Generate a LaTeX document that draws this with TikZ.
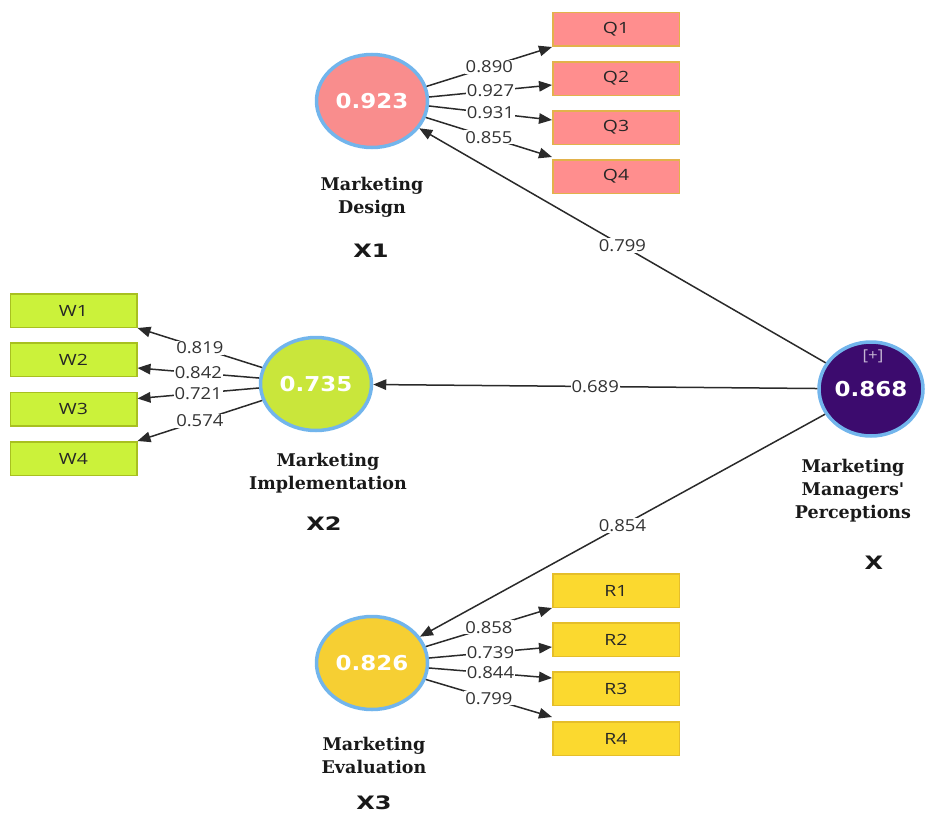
\documentclass[tikz,border=0pt]{standalone}
\usepackage{fontspec}
\usetikzlibrary{shapes.geometric,arrows.meta}
\newfontfamily\numfont{Open Sans}[FakeStretch=1.12]
\newfontfamily\boxfont{Open Sans}[FakeStretch=1.25]
\newfontfamily\valfont{DejaVu Sans}[FakeStretch=1.12]
\newfontfamily\xfont{DejaVu Sans}[FakeStretch=1.3]
\newfontfamily\lblfont{DejaVu Serif}
\definecolor{cborder}{HTML}{72B5EC}
\definecolor{cX}{HTML}{3C0B6E}
\definecolor{cXone}{HTML}{F98D8D}
\definecolor{cQ}{HTML}{FF8E8E}
\definecolor{cQb}{HTML}{E2B24B}
\definecolor{cXtwo}{HTML}{C9E63B}
\definecolor{cW}{HTML}{CBF23A}
\definecolor{cWb}{HTML}{A8C020}
\definecolor{cXthree}{HTML}{F6CF33}
\definecolor{cR}{HTML}{FBD92F}
\definecolor{cRb}{HTML}{E5BE2A}
\definecolor{cline}{HTML}{2A2A2A}
\begin{document}
\begin{tikzpicture}[x=1pt,y=-1pt,
  lv/.style={ellipse, draw=cborder, line width=3.5pt, minimum width=111pt, minimum height=93pt, inner sep=0pt, text=white, font=\valfont\bfseries\fontsize{20.5}{24}\selectfont},
  ind/.style={rectangle, line width=1.5pt, minimum width=126.5pt, minimum height=33.5pt, inner sep=0pt, font=\boxfont\fontsize{15.5}{18}\selectfont, text=black!85},
  arr/.style={draw=cline, line width=1.5pt, -{Triangle[length=13pt,width=10.5pt]}},
  wl/.style={fill=white, inner sep=1pt, font=\numfont\fontsize{16.5}{18}\selectfont, text=black!80},
  lbl/.style={align=center, font=\lblfont\bfseries\fontsize{17.5}{23}\selectfont, text=black!90},
  xl/.style={font=\xfont\bfseries\fontsize{18.5}{20}\selectfont, text=black!90}]
\useasboundingbox (0,0) rectangle (925,816);

% latent variables
\node[lv, fill=cXone] (X1) at (372,101) {0.923};
\node[lv, fill=cXtwo] (X2) at (316,384) {0.735};
\node[lv, fill=cXthree] (X3) at (372,663) {0.826};
\node[lv, fill=cX, minimum width=104pt, minimum height=94pt] (X) at (871,389) {0.868};
\node[font=\numfont\fontsize{15}{16}\selectfont, text=white!70!cX] (Xplus) at (873,356) {[+]};

% indicators
\foreach \n/\y in {1/29.5,2/78.5,3/127.5,4/176.5}
  \node[ind, fill=cQ, draw=cQb] (Q\n) at (616,\y) {Q\n};
\foreach \n/\y in {1/310.5,2/359.5,3/409,4/458.5}
  \node[ind, fill=cW, draw=cWb] (W\n) at (73.5,\y) {W\n};
\foreach \n/\y in {1/590.5,2/639.5,3/688.5,4/738.5}
  \node[ind, fill=cR, draw=cRb] (R\n) at (616,\y) {R\n};

% labels
\node[lbl] (L1) at (372,197) {Marketing\\Design};
\node[xl] (N1) at (371,251) {X1};
\node[lbl] (L2) at (328,473) {Marketing\\Implementation};
\node[xl] (N2) at (324,524) {X2};
\node[lbl] (L3) at (374,755) {Marketing\\Evaluation};
\node[xl] (N3) at (374,803) {X3};
\node[lbl] (L) at (853,491) {Marketing\\Managers\textquotesingle\\Perceptions};
\node[xl] (N) at (874,563) {X};

% structural paths
\draw[arr] (X) -- node[wl]{0.799} (X1);
\draw[arr] (X) -- node[wl]{0.689} (X2);
\draw[arr] (X) -- node[wl]{0.854} (X3);

% outer loadings X1
\draw[arr] (X1.15) -- node[wl]{0.890} (Q1.south west);
\draw[arr] (X1.4) -- node[wl]{0.927} ([yshift=-6.5pt]Q2.west);
\draw[arr] (X1.-5) -- node[wl]{0.931} ([yshift=7.5pt]Q3.west);
\draw[arr] (X1.-17) -- node[wl]{0.855} ([yshift=19.5pt]Q4.west);

% outer loadings X2
\draw[arr] (X2.163) -- node[wl]{0.819} (W1.south east);
\draw[arr] (X2.174) -- node[wl]{0.842} ([yshift=-8.5pt]W2.east);
\draw[arr] (X2.184) -- node[wl]{0.721} ([yshift=10.5pt]W3.east);
\draw[arr] (X2.197) -- node[wl]{0.574} (W4.north east);

% outer loadings X3
\draw[arr] (X3.17) -- node[wl]{0.858} (R1.south west);
\draw[arr] (X3.5) -- node[wl]{0.739} ([yshift=-7.5pt]R2.west);
\draw[arr] (X3.-5) -- node[wl]{0.844} ([yshift=10.5pt]R3.west);
\draw[arr] (X3.-17) -- node[wl]{0.799} ([yshift=21.5pt]R4.west);
\end{tikzpicture}
\end{document}
